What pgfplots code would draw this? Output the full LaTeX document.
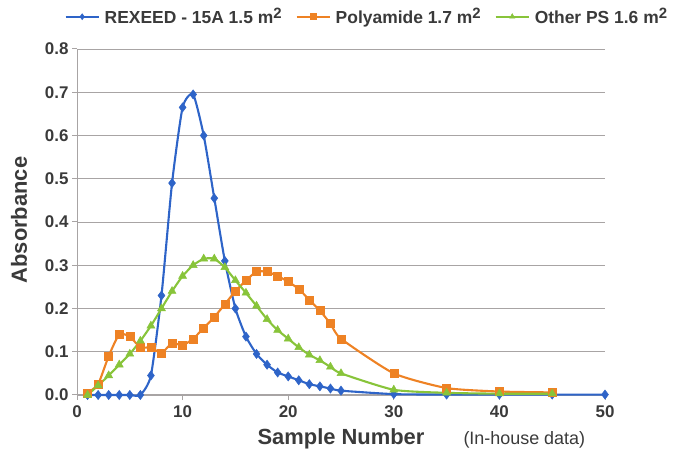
\documentclass[border=0pt]{standalone}
\usepackage{fontspec}
\setmainfont{Liberation Sans}
\usepackage{pgfplots}
\pgfplotsset{compat=1.18}
\definecolor{cblue}{HTML}{2E64C8}
\definecolor{corange}{HTML}{EE8224}
\definecolor{cgreen}{HTML}{88C43A}
\definecolor{cgrid}{HTML}{A8A4A4}
\definecolor{ctext}{HTML}{3A3A3A}
\newcommand{\sq}{\raisebox{0.55ex}{\fontsize{15}{15}\selectfont 2}}
\begin{document}
\begin{tikzpicture}[x=1bp,y=1bp]
\useasboundingbox (0,0) rectangle (675,454);
\begin{axis}[
  at={(77bp,59bp)}, anchor=south west,
  scale only axis, width=528bp, height=346bp,
  xmin=0, xmax=50, ymin=0, ymax=0.8,
  xtick={0,10,...,50}, ytick={0,0.1,...,0.8},
  yticklabel style={/pgf/number format/.cd, fixed, fixed zerofill, precision=1},
  /pgf/number format/assume math mode=true,
  tick label style={font=\fontsize{17}{17}\selectfont\bfseries, text=ctext},
  xticklabel style={yshift=-2bp},
  ymajorgrids, grid style={cgrid, line width=0.9bp},
  axis x line*=bottom, axis y line*=left,
  axis line style={cgrid, line width=1bp, -},
  tick style={cgrid, line width=1bp}, major tick length=5bp,
  tick align=outside,
  xlabel={Sample Number},
  label style={font=\fontsize{22}{22}\selectfont\bfseries, text=ctext},
  xlabel style={at={(0.50,0)}, anchor=north, yshift=-30bp},
  legend columns=3,
  legend style={draw=none, fill=none, at={(0.549,1.13)}, anchor=north,
    font=\fontsize{17.5}{17.5}\selectfont\bfseries, text=ctext,
    /tikz/every odd column/.append style={column sep=3bp},
    /tikz/every even column/.append style={column sep=12bp}},
  legend image code/.code={%
    \draw[mark repeat=2, mark phase=2, #1, sharp plot, mark size=3bp] plot coordinates {(0bp,0bp) (16.5bp,0bp) (33bp,0bp)};},
  legend cell align=left,
  every axis plot/.append style={line width=2.1bp, smooth, tension=0.35},
  clip=false,
]
\addplot[cblue, mark=diamond*, mark size=4.6bp, mark options={solid, line width=0.5bp}] coordinates {
(1,0) (2,0) (3,0) (4,0) (5,0) (6,0) (7,0.045) (8,0.23) (9,0.49) (10,0.665)
(11,0.695) (12,0.60) (13,0.455) (14,0.31) (15,0.20) (16,0.135) (17,0.095) (18,0.07)
(19,0.052) (20,0.043) (21,0.034) (22,0.025) (23,0.02) (24,0.015) (25,0.01)
(30,0.002) (35,0.001) (40,0.001) (45,0.001) (50,0.001)};
\addlegendentry{REXEED - 15A 1.5 m\sq}
\addplot[corange, mark=square*, mark size=4bp, mark options={solid, line width=0.5bp}] coordinates {
(1,0.005) (2,0.025) (3,0.09) (4,0.14) (5,0.135) (6,0.11) (7,0.11) (8,0.097)
(9,0.12) (10,0.115) (11,0.13) (12,0.155) (13,0.18) (14,0.21) (15,0.24) (16,0.265)
(17,0.285) (18,0.285) (19,0.275) (20,0.262) (21,0.245) (22,0.22) (23,0.195)
(24,0.165) (25,0.13) (30,0.05) (35,0.016) (40,0.008) (45,0.006)};
\addlegendentry{Polyamide 1.7 m\sq}
\addplot[cgreen, mark=triangle*, mark size=4.6bp, mark options={solid, line width=0.5bp}] coordinates {
(1,0.0) (2,0.022) (3,0.045) (4,0.07) (5,0.095) (6,0.125) (7,0.16) (8,0.2)
(9,0.24) (10,0.275) (11,0.30) (12,0.315) (13,0.315) (14,0.295) (15,0.265)
(16,0.236) (17,0.206) (18,0.175) (19,0.15) (20,0.13) (21,0.11) (22,0.093)
(23,0.08) (24,0.065) (25,0.05) (30,0.012) (35,0.005) (40,0.003) (45,0.003)};
\addlegendentry{Other PS 1.6 m\sq}
\end{axis}
\node[rotate=90, font=\fontsize{22}{22}\selectfont\bfseries, text=ctext] at (19,234) {Absorbance};
\node[anchor=base west, font=\fontsize{18}{18}\selectfont, text=ctext] at (460,9) {(In-house data)};
\end{tikzpicture}
\end{document}
